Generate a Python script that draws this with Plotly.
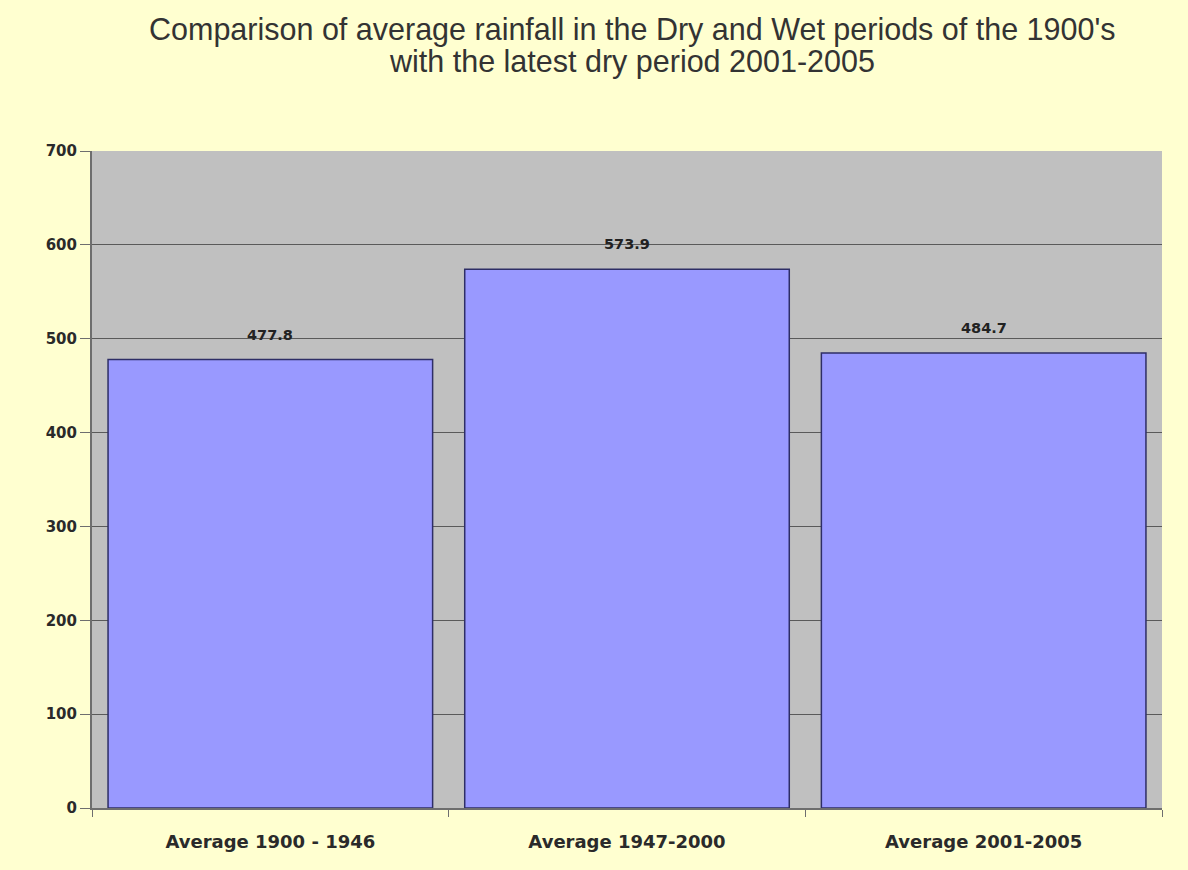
import plotly.graph_objects as go

# Average rainfall per period (mm)
periods = ["Average 1900 - 1946", "Average 1947-2000", "Average 2001-2005"]
rainfall = [477.8, 573.9, 484.7]
y_ticks = [0, 100, 200, 300, 400, 500, 600, 700]
title_lines = [
    "Comparison of average rainfall in the Dry and Wet periods of the 1900's",
    "with the latest dry period 2001-2005",
]

TITLE_FONT = "Liberation Sans, Arial, sans-serif"
BOLD_FONT = "DejaVu Sans, Verdana, sans-serif"

fig = go.Figure()
fig.add_trace(go.Bar(
    x=periods,
    y=rainfall,
    width=0.91,
    marker=dict(color="#9999FF", line=dict(color="#2E2E66", width=1.5)),
    hoverinfo="x+y",
))

# Value labels above each bar
for p, v in zip(periods, rainfall):
    fig.add_annotation(
        x=p, y=v, text=f"<b>{v:.1f}</b>", showarrow=False, yanchor="bottom", yshift=15,
        font=dict(family=BOLD_FONT, size=14.5, color="#222222"),
    )

# Two-line title, each line placed in pixels from the top
for i, line in enumerate(title_lines):
    fig.add_annotation(
        text=line, xref="paper", yref="paper",
        x=0.505, y=(808 - (30 + 32 * i)) / 657, xanchor="center", yanchor="middle",
        showarrow=False,
        font=dict(family=TITLE_FONT, size=30.5, color="#333333"),
    )

fig.update_layout(
    width=1188, height=870,
    margin=dict(l=92, r=26, t=151, b=62),
    paper_bgcolor="#FFFFD0",
    plot_bgcolor="#C0C0C0",
    showlegend=False,
)

fig.update_yaxes(
    range=[0, 700], tickvals=y_ticks,
    showgrid=True, gridcolor="#5A5A5A", gridwidth=1,
    showline=True, linecolor="#6E6E6E", linewidth=2,
    ticks="outside", ticklen=10, tickcolor="#6E6E6E",
    tickfont=dict(size=15, color="#2A2A2A", family=BOLD_FONT, weight="bold"),
    zeroline=False,
)
fig.update_xaxes(
    showline=True, linecolor="#6E6E6E", linewidth=2,
    ticks="outside", ticklen=7, tickcolor="#6E6E6E", tickson="boundaries",
    ticklabelstandoff=16,
    tickfont=dict(size=18, color="#2A2A2A", family=BOLD_FONT, weight="bold"),
)

fig.write_html("out.html")
